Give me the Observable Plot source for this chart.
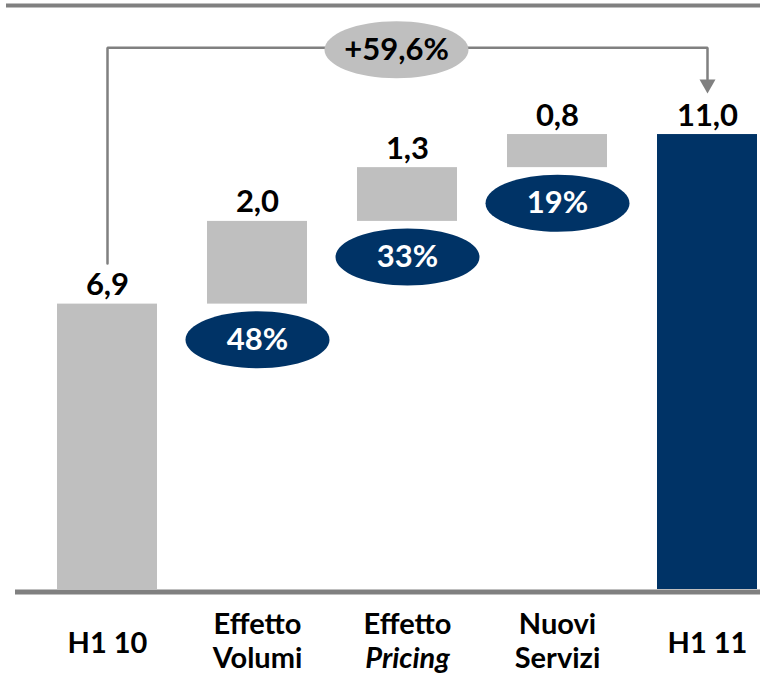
<!DOCTYPE html>
<html>
<head>
<meta charset="utf-8">
<script src="https://cdn.jsdelivr.net/npm/d3@7"></script>
<script src="https://cdn.jsdelivr.net/npm/@observablehq/plot@0.6"></script>
<style>
  html, body { margin: 0; padding: 0; background: #fff; }
  #chart svg { display: block; }
</style>
</head>
<body>
<div id="chart"></div>
<script>
// ---- data ----
const categories = ["H1 10", "Effetto Volumi", "Effetto Pricing", "Nuovi Servizi", "H1 11"];
const labelLine1 = ["H1 10", "Effetto", "Effetto", "Nuovi", "H1 11"];
const labelLine2 = ["", "Volumi", "Pricing", "Servizi", ""];
const labelItalic2 = [false, false, true, false, false];
const startValue = 6.9;
const deltaValues = [2.0, 1.3, 0.8];
const endValue = 11.0;
const valueLabels = ["6,9", "2,0", "1,3", "0,8", "11,0"];
const shareLabels = ["48%", "33%", "19%"];
const totalChangeLabel = "+59,6%";

// ---- derived table ----
const bars = [];
bars.push({cat: categories[0], y1: 0, y2: startValue, kind: "total", label: valueLabels[0]});
let acc = startValue;
deltaValues.forEach((d, i) => {
  bars.push({cat: categories[i + 1], y1: acc, y2: acc + d, kind: "delta", label: valueLabels[i + 1], share: shareLabels[i]});
  acc += d;
});
bars.push({cat: categories[4], y1: 0, y2: endValue, kind: "final", label: valueLabels[4]});
const deltas = bars.filter(b => b.kind === "delta");

const labels = categories.map((c, i) => ({cat: c, l1: labelLine1[i], l2: labelLine2[i], it: labelItalic2[i]}));

// ---- styling ----
const GRAY = "#bfbfbf", NAVY = "#003366", LINE = "#808080";
const yTop = 14.12;          // upper edge of the frame (top rule)
const arrowLevel = 13.1;     // height of the connector
const arrowStart = 7.88;     // connector start above first bar
const arrowEnd = 12.33;      // connector end above last bar
const connector = [
  {cat: categories[0], y: arrowStart},
  {cat: categories[0], y: arrowLevel},
  {cat: categories[4], y: arrowLevel},
  {cat: categories[4], y: arrowEnd}
];

function ellipse(rx, ry) {
  const k = 0.5523;
  return {draw(ctx) {
    ctx.moveTo(rx, 0);
    ctx.bezierCurveTo(rx, ry * k, rx * k, ry, 0, ry);
    ctx.bezierCurveTo(-rx * k, ry, -rx, ry * k, -rx, 0);
    ctx.bezierCurveTo(-rx, -ry * k, -rx * k, -ry, 0, -ry);
    ctx.bezierCurveTo(rx * k, -ry, rx, -ry * k, rx, 0);
    ctx.closePath();
  }};
}
const arrowHead = {draw(ctx) {
  ctx.moveTo(-8, 0); ctx.lineTo(8, 0); ctx.lineTo(0, 14); ctx.closePath();
}};

const catFont = 29;
const chart = Plot.plot({
  width: 760,
  height: 680,
  marginLeft: 15,
  marginRight: 0,
  marginTop: 5,
  marginBottom: 91,
  style: {fontFamily: "Lato, 'Open Sans', sans-serif", background: "#fff", overflow: "visible"},
  x: {domain: categories, paddingInner: 0.33, paddingOuter: 0.1417, align: 0.94, axis: null},
  y: {domain: [0, yTop], axis: null},
  marks: [
    Plot.ruleY([yTop], {stroke: LINE, strokeWidth: 4, insetLeft: -9}),
    Plot.line(connector, {x: "cat", y: "y", stroke: LINE, strokeWidth: 2.5, strokeLinejoin: "miter", curve: "linear"}),
    Plot.dot([connector[3]], {x: "cat", y: "y", symbol: arrowHead, fill: LINE, stroke: "none"}),
    Plot.dot([{cat: categories[2], y: arrowLevel}], {x: "cat", y: "y", dx: -11, dy: 2, symbol: ellipse(72, 28.5), fill: GRAY, stroke: "none"}),
    Plot.text([{cat: categories[2], y: arrowLevel, t: totalChangeLabel}], {x: "cat", y: "y", text: "t", dx: -11, dy: 2, lineAnchor: "middle", fontSize: 31, fontWeight: "bold", fill: "#000"}),
    Plot.barY(bars, {x: "cat", y1: "y1", y2: "y2", fill: d => d.kind === "final" ? NAVY : GRAY}),
    Plot.ruleY([0], {stroke: LINE, strokeWidth: 5, dy: 2.5}),
    Plot.text(bars, {x: "cat", y: "y2", text: "label", lineAnchor: "bottom", dy: -9, fontSize: 31, fontWeight: "bold", fill: "#000"}),
    Plot.dot(deltas, {x: "cat", y: d => d.y1 - 0.86, symbol: ellipse(72, 28.5), fill: NAVY, stroke: "none"}),
    Plot.text(deltas, {x: "cat", y: d => d.y1 - 0.86, text: "share", lineAnchor: "middle", fontSize: 31, fontWeight: "bold", fill: "#fff"}),
    Plot.text(labels.filter(d => !d.l2), {x: "cat", y: 0, text: "l1", lineAnchor: "bottom", dy: 63, fontSize: catFont, fontWeight: "bold", fill: "#000"}),
    Plot.text(labels.filter(d => d.l2), {x: "cat", y: 0, text: "l1", lineAnchor: "bottom", dy: 44, fontSize: catFont, fontWeight: "bold", fill: "#000"}),
    Plot.text(labels.filter(d => d.l2 && !d.it), {x: "cat", y: 0, text: "l2", lineAnchor: "bottom", dy: 78, fontSize: catFont, fontWeight: "bold", fill: "#000"}),
    Plot.text(labels.filter(d => d.l2 && d.it), {x: "cat", y: 0, text: "l2", lineAnchor: "bottom", dy: 78, fontSize: catFont, fontWeight: "bold", fontStyle: "italic", fill: "#000"})
  ]
});
document.getElementById("chart").append(chart);
</script>
</body>
</html>
